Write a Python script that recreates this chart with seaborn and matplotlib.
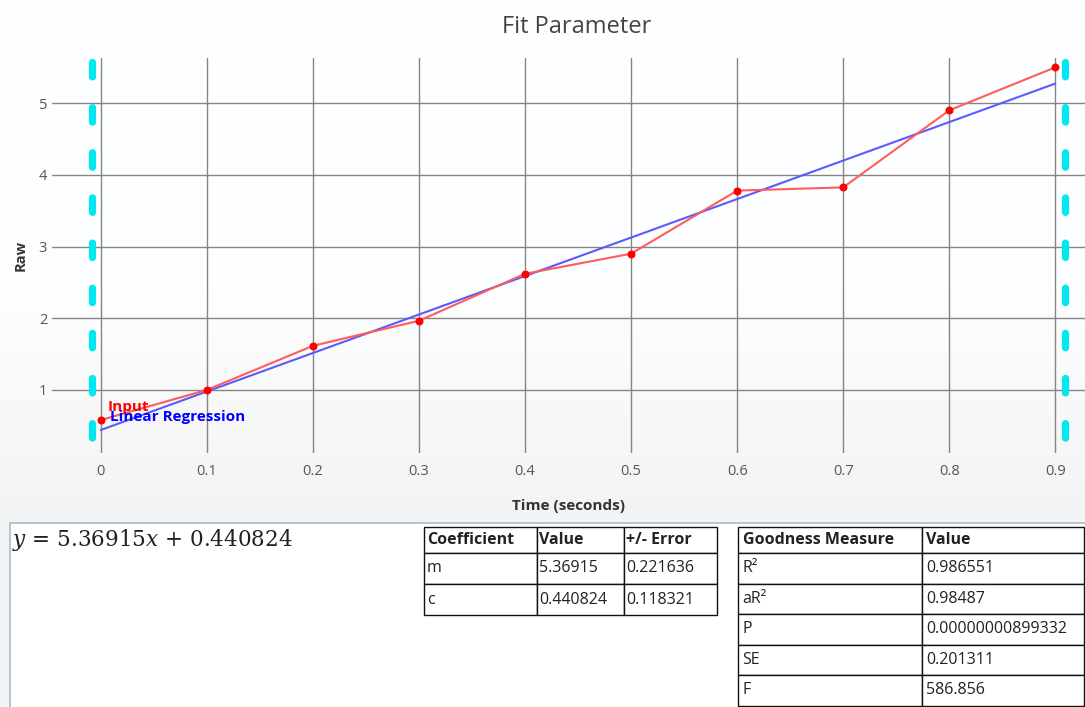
import numpy as np
import pandas as pd
import matplotlib
matplotlib.use("Agg")
import matplotlib.pyplot as plt
import seaborn as sns
from matplotlib.patches import Rectangle

# ---------------- data ----------------
time_s = [0.0, 0.1, 0.2, 0.3, 0.4, 0.5, 0.6, 0.7, 0.8, 0.9]
raw_vals = [0.58, 1.00, 1.615, 1.965, 2.62, 2.90, 3.78, 3.825, 4.90, 5.50]
fit_m = 5.36915
fit_c = 0.440824
range_bounds = [-0.0085, 0.909]
range_span = [5.58, 0.33]

x_ticks = [0.0, 0.1, 0.2, 0.3, 0.4, 0.5, 0.6, 0.7, 0.8, 0.9]
x_tick_labels = ["0", "0.1", "0.2", "0.3", "0.4", "0.5", "0.6", "0.7", "0.8", "0.9"]
y_ticks = [1, 2, 3, 4, 5]
y_tick_labels = ["1", "2", "3", "4", "5"]

coef_header = ["Coefficient", "Value", "+/- Error"]
coef_names = ["m", "c"]
coef_values = ["5.36915", "0.440824"]
coef_errors = ["0.221636", "0.118321"]

good_header = ["Goodness Measure", "Value"]
good_names = ["R²", "aR²", "P", "SE", "F"]
good_values = ["0.986551", "0.98487", "0.00000000899332", "0.201311", "586.856"]

equation = r"$y$ = 5.36915$x$ + 0.440824"

# ---------------- style ----------------
sns.set_theme(style="white")
plt.rcParams["font.family"] = ["Open Sans", "DejaVu Sans"]
plt.rcParams["mathtext.fontset"] = "dejavuserif"

W, H = 1085, 707
fig = plt.figure(figsize=(W / 100, H / 100), dpi=100)

def fx(px):
    return px / W

def fy(py):
    return 1 - py / H

# background gradient
bg = fig.add_axes([0, 0, 1, 1], zorder=-10)
rows = np.arange(H)
t = np.clip((rows - 280) / (520 - 280), 0, 1)
g = 1 - t * (1 - 0.955)
img = np.stack([g * 0.996, g * 0.998, g * 1.0], axis=-1)[:, None, :]
img = np.clip(img, 0, 1)
bg.imshow(img, aspect="auto", extent=[0, 1, 0, 1], origin="upper")
bg.set_xlim(0, 1)
bg.set_ylim(0, 1)
bg.axis("off")

# equation panel box
bg.add_patch(Rectangle((fx(10), -0.01), 1.0, fy(523) + 0.01, facecolor="white",
                       edgecolor="#a7bbd0", linewidth=1.2, zorder=2))

# ---------------- main chart ----------------
ax = fig.add_axes([fx(52), fy(453), fx(1085 - 52), (453 - 58) / H])
ax.set_facecolor("none")

df_in = pd.DataFrame({"Time": time_s, "Raw": raw_vals})
fit_x = np.array([time_s[0], time_s[-1]])
df_fit = pd.DataFrame({"Time": fit_x, "Raw": fit_m * fit_x + fit_c})

for b in range_bounds:
    ax.plot([b, b], range_span, color="#00e8f0", lw=5.2, ls=(0, (2.0, 4.25)),
            solid_capstyle="round", dash_capstyle="round", zorder=1)

sns.lineplot(data=df_in, x="Time", y="Raw", ax=ax, color="#ff5c5c", lw=1.5,
             marker="o", markersize=5, markerfacecolor="#ff0000",
             markeredgecolor="#ff0000", zorder=4)
sns.lineplot(data=df_fit, x="Time", y="Raw", ax=ax, color="#5a5aff", lw=1.5, zorder=3)

ax.set_xlim(-0.046, 0.928)
ax.set_ylim(0.12, 5.63)
ax.set_xticks(x_ticks)
ax.set_xticklabels(x_tick_labels)
ax.set_yticks(y_ticks)
ax.set_yticklabels(y_tick_labels)
ax.grid(True, color="#858585", lw=1)
ax.set_axisbelow(True)
for s in ax.spines.values():
    s.set_visible(False)
ax.tick_params(axis="both", length=0, labelsize=10.5, labelcolor="#555555")
ax.tick_params(axis="x", pad=8)
ax.tick_params(axis="y", pad=3.5)
ax.set_xlabel("Time (seconds)", fontsize=11, fontweight="bold", color="#333333", labelpad=14)
ax.set_ylabel("Raw", fontsize=10.5, fontweight="bold", color="#333333", labelpad=8)

ax.text(0.0066, 0.762, "Input", color="#ff0000", fontsize=11, fontweight="bold",
        va="center", zorder=5)
ax.text(0.0085, 0.622, "Linear Regression", color="#0000ff", fontsize=11, fontweight="bold",
        va="center", zorder=5)

fig.text(fx(577), fy(27), "Fit Parameter", ha="center", va="center", fontsize=17, color="#444444")

# equation
fig.text(fx(12), fy(540), equation, ha="left", va="center", fontsize=15.5, color="#222222",
         family=["DejaVu Serif"])

# ---------------- tables ----------------
def draw_table(rect, header, rows_, col_w, head_h, row_h):
    tax = fig.add_axes(rect)
    tax.axis("off")
    cells = [header] + rows_
    tbl = tax.table(cellText=cells, colWidths=col_w, bbox=[0, 0, 1, 1], cellLoc="left")
    tbl.auto_set_font_size(False)
    for (r, c), cell in tbl.get_celld().items():
        cell.set_edgecolor("#111111")
        cell.set_linewidth(1.0)
        cell.set_facecolor("white")
        cell.PAD = 0.025
        cell.set_height(head_h if r == 0 else row_h)
        txt = cell.get_text()
        txt.set_fontsize(11.5)
        txt.set_color("#222222")
        if r == 0:
            txt.set_fontweight("bold")
    return tax

coef_rows = [[n, v, e] for n, v, e in zip(coef_names, coef_values, coef_errors)]
draw_table([fx(424), fy(615), fx(717 - 424), (615 - 527) / H], coef_header, coef_rows,
           [113 / 293, 87 / 293, 93 / 293], 26, 31)

good_rows = [[n, v] for n, v in zip(good_names, good_values)]
draw_table([fx(738), fy(705.5), fx(1084 - 738), (705.5 - 527) / H], good_header, good_rows,
           [184 / 346, 162 / 346], 26, 30.5)

fig.savefig("out.png", dpi=100)
